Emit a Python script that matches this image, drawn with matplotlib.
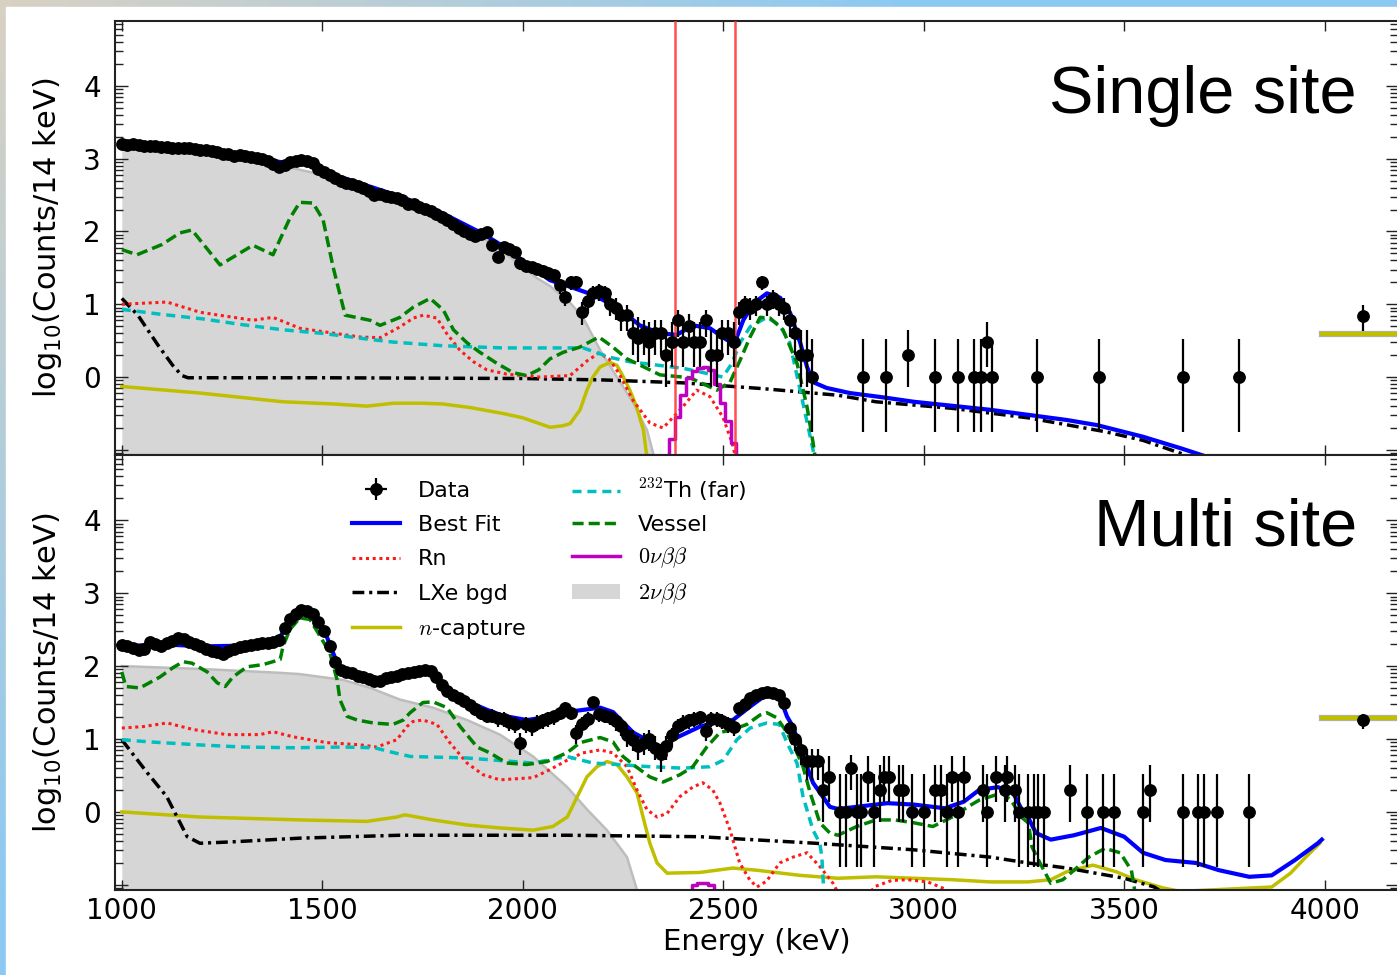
import numpy as np
import matplotlib
matplotlib.use("Agg")
import matplotlib.pyplot as plt
from matplotlib.patches import Rectangle

plt.rcParams['font.family'] = ['DejaVu Sans']
plt.rcParams['mathtext.fontset'] = 'cm'

# ------------------------------------------------------------------ data
bin_start = 1000.0
bin_width = 14.0

# ---- Single site (top panel), log10(counts / 14 keV)
ss_data_dense = [
    3.20, 3.19, 3.20, 3.19, 3.18, 3.18, 3.17, 3.16, 3.16, 3.15,
    3.15, 3.14, 3.15, 3.13, 3.12, 3.12, 3.10, 3.09, 3.07, 3.06,
    3.04, 3.05, 3.03, 3.02, 3.01,
    3.00, 2.97, 2.93, 2.89, 2.91, 2.95, 2.97, 2.98, 2.97, 2.94,
    2.86, 2.81, 2.77, 2.73, 2.69, 2.67, 2.65, 2.62, 2.60, 2.56,
    2.50, 2.52, 2.49, 2.47, 2.46, 2.43, 2.38, 2.38, 2.34, 2.31,
    2.28, 2.24, 2.20, 2.16, 2.10, 2.05, 2.00, 1.96, 1.94, 1.96,
    1.99, 1.82, 1.65, 1.79, 1.76, 1.72, 1.56, 1.53, 1.51, 1.49,
    1.46, 1.43, 1.40,
    1.26, 1.10, 1.30, 1.31, 0.90, 1.04, 1.15, 1.18, 1.15, 1.00,
    0.95, 0.85, 0.85, 0.60, 0.54, 0.60, 0.48, 0.60, 0.60, 0.30,
    0.48, 0.78, 0.48, 0.70, 0.48, 0.48, 0.78, 0.30, 0.30, 0.60,
    0.60, 0.48, 0.90, 1.00, 0.95, 1.00, 1.30, 1.00, 1.08, 1.00,
    0.95, 0.78, 0.60, 0.30, 0.30, 0.00]
ss_sparse_E = [2848, 2905, 2962, 3028, 3085, 3126, 3142, 3158, 3171, 3282,
               3437, 3646, 3786, 4095]
ss_sparse_y = [0.00, 0.00, 0.30, 0.00, 0.00, 0.00, 0.00, 0.48, 0.00, 0.00,
               0.00, 0.00, 0.00, 0.84]

ss_fit_E = [1000, 1100, 1200, 1300, 1400, 1450, 1500, 1600, 1700, 1800,
            1900, 1950, 2000, 2050, 2068, 2118, 2175, 2235, 2292, 2342,
            2384, 2425, 2467, 2509, 2534, 2550, 2575, 2609, 2642, 2667,
            2692, 2709, 2724, 2758, 2816, 2900, 2976, 3166, 3357, 3432,
            3547, 3642, 3720]
ss_fit_y = [3.18, 3.15, 3.10, 3.03, 2.95, 2.96, 2.83, 2.65, 2.47, 2.25,
            1.97, 1.80, 1.60, 1.40, 1.33, 1.24, 1.13, 0.96, 0.71, 0.60,
            0.58, 0.71, 0.67, 0.51, 0.55, 0.78, 1.01, 1.15, 1.09, 0.88,
            0.47, 0.14, -0.07, -0.15, -0.22, -0.28, -0.34, -0.45, -0.59, -0.66,
            -0.82, -0.98, -1.12]

ss_lxe_E = [1000, 1040, 1090, 1127, 1150, 1165, 1500, 2000, 2200, 2400,
            2600, 2786, 2881, 3071, 3260, 3452, 3547, 3642, 3670]
ss_lxe_y = [1.08, 0.85, 0.44, 0.16, 0.02, -0.01, -0.01, -0.02, -0.04, -0.08,
            -0.16, -0.25, -0.34, -0.43, -0.56, -0.75, -0.87, -1.05, -1.12]

ss_th_E = [1000, 1100, 1200, 1300, 1400, 1500, 1600, 1677, 1800, 1950,
           2068, 2151, 2218, 2267, 2400, 2459, 2499, 2522, 2542, 2567,
           2609, 2641, 2666, 2699, 2724, 2730]
ss_th_y = [0.93, 0.86, 0.80, 0.72, 0.65, 0.60, 0.53, 0.48, 0.43, 0.40,
           0.40, 0.40, 0.27, 0.21, 0.12, 0.05, 0.00, 0.19, 0.47, 0.69,
           0.82, 0.71, 0.47, -0.36, -1.00, -1.20]

ss_ves_E = [1000, 1038, 1100, 1145, 1175, 1245, 1327, 1377, 1419, 1444,
            1477, 1502, 1527, 1557, 1619, 1644, 1694, 1727, 1769, 1802,
            1827, 1861, 1893, 1935, 1976, 2010, 2040, 2068, 2101, 2142,
            2190, 2225, 2260, 2309, 2342, 2417, 2484, 2517, 2542, 2567,
            2592, 2617, 2649, 2684, 2709, 2724, 2732]
ss_ves_y = [1.75, 1.68, 1.82, 1.98, 2.02, 1.54, 1.81, 1.68, 2.18, 2.40,
            2.39, 2.16, 1.51, 0.85, 0.78, 0.71, 0.82, 0.96, 1.08, 0.92,
            0.65, 0.47, 0.34, 0.19, 0.06, 0.02, 0.10, 0.25, 0.34, 0.41,
            0.55, 0.41, 0.25, 0.12, 0.03, -0.01, -0.18, -0.07, 0.23, 0.55,
            0.82, 0.81, 0.65, 0.19, -0.41, -0.90, -1.20]

ss_rn_E = [1000, 1113, 1195, 1327, 1377, 1444, 1594, 1644, 1694, 1727,
           1752, 1786, 1810, 1843, 1877, 1910, 1960, 2043, 2118, 2160,
           2190, 2215, 2240, 2275, 2317, 2350, 2399, 2434, 2467, 2499,
           2522, 2535]
ss_rn_y = [1.00, 1.03, 0.89, 0.78, 0.82, 0.67, 0.55, 0.54, 0.69, 0.81,
           0.85, 0.81, 0.60, 0.37, 0.21, 0.10, 0.04, 0.00, 0.02, 0.22,
           0.33, 0.25, 0.05, -0.32, -0.63, -0.70, -0.41, -0.18, -0.27, -0.55,
           -0.90, -1.20]

ss_ncap_E = [1000, 1195, 1402, 1527, 1612, 1677, 1750, 1800, 1870, 1950,
             2000, 2068, 2100, 2118, 2143, 2160, 2175, 2193, 2218, 2235,
             2251, 2267, 2284, 2301, 2312]
ss_ncap_y = [-0.13, -0.22, -0.34, -0.37, -0.40, -0.36, -0.36, -0.37, -0.42, -0.50,
             -0.56, -0.69, -0.67, -0.64, -0.45, -0.18, 0.00, 0.14, 0.20, 0.16,
             0.00, -0.18, -0.41, -0.73, -1.20]

ss_0nu_E = [2358, 2372, 2386, 2400, 2414, 2428, 2442, 2456, 2470, 2484,
            2498, 2512, 2526, 2540]
ss_0nu_y = [-1.50, -0.85, -0.55, -0.25, -0.02, 0.08, 0.13, 0.14, 0.10, -0.10,
            -0.35, -0.60, -0.90, -1.50]

ss_2nu_E = [1000, 1100, 1200, 1300, 1400, 1500, 1600, 1700, 1800, 1900,
            1950, 2000, 2035, 2068, 2118, 2150, 2193, 2235, 2276, 2310,
            2325, 2335]
ss_2nu_y = [3.16, 3.12, 3.07, 3.00, 2.90, 2.78, 2.62, 2.44, 2.22, 1.92,
            1.72, 1.52, 1.36, 1.25, 1.02, 0.82, 0.37, 0.00, -0.36, -0.73,
            -1.04, -1.30]
ss_overflow_model = 0.59

# ---- Multi site (bottom panel)
ms_data_dense = [
    2.29, 2.27, 2.25, 2.22, 2.24, 2.33, 2.30, 2.27, 2.32, 2.35,
    2.39, 2.37, 2.33, 2.30, 2.27, 2.24, 2.21, 2.19, 2.16, 2.21,
    2.24, 2.26, 2.28, 2.29, 2.30, 2.31, 2.32, 2.33, 2.36, 2.52,
    2.64, 2.72, 2.77, 2.76, 2.71, 2.60, 2.48, 2.28, 2.05, 1.95,
    1.92, 1.90, 1.86, 1.85, 1.82, 1.79, 1.80, 1.83, 1.85, 1.87,
    1.89, 1.91, 1.92, 1.93, 1.94, 1.93, 1.85, 1.74, 1.66, 1.60,
    1.56, 1.52, 1.47, 1.41, 1.36, 1.32, 1.32, 1.29, 1.28, 1.23,
    1.20, 0.95, 1.20, 1.18, 1.22, 1.26, 1.29, 1.31, 1.36, 1.43,
    1.36, 1.08, 1.20, 1.28, 1.51, 1.34, 1.32, 1.30, 1.24, 1.18,
    1.05, 0.98, 0.90, 0.95, 1.00, 0.88, 0.80, 0.90, 1.05, 1.18,
    1.22, 1.26, 1.28, 1.30, 1.11, 1.28, 1.28, 1.25, 1.20, 1.17,
    1.42, 1.48, 1.56, 1.60, 1.63, 1.65, 1.63, 1.60, 1.49, 1.15,
    1.00, 0.85, 0.70, 0.70, 0.70, 0.30, 0.48]
ms_sparse_E = [2791, 2805, 2834, 2843, 2877, 2971, 3000, 3057, 3085, 3157,
               3238, 3261, 3275, 3285, 3299, 3408, 3446, 3474, 3546, 3646,
               3684, 3698, 3731, 3812,
               2892, 2938, 2948, 3028, 3043, 3147, 3204, 3228, 3366, 3565,
               2862, 2900, 2914, 3071, 3100, 3180, 3209,
               2819, 4095]
ms_sparse_y = [0.00] * 24 + [0.30] * 10 + [0.48] * 7 + [0.60, 1.26]

ms_fit_E = [1000, 1100, 1200, 1300, 1390, 1420, 1450, 1480, 1510, 1540,
            1560, 1640, 1700, 1760, 1800, 1860, 1911, 1950, 2010, 2060,
            2110, 2193, 2225, 2275, 2342, 2384, 2442, 2491, 2524, 2566,
            2608, 2641, 2659, 2674, 2699, 2724, 2766, 2786, 2833, 2910,
            2976, 3053, 3100, 3138, 3185, 3223, 3243, 3260, 3280, 3317,
            3375, 3442, 3500, 3547, 3603, 3679, 3737, 3812, 3868, 3926,
            3983, 3993]
ms_fit_y = [2.27, 2.30, 2.27, 2.28, 2.36, 2.62, 2.77, 2.70, 2.42, 2.00,
            1.92, 1.80, 1.88, 1.93, 1.75, 1.52, 1.40, 1.32, 1.26, 1.30,
            1.37, 1.43, 1.37, 1.09, 0.89, 1.02, 1.17, 1.24, 1.26, 1.44,
            1.61, 1.58, 1.31, 1.17, 0.76, 0.40, 0.07, 0.04, 0.07, 0.12,
            0.10, 0.05, 0.14, 0.30, 0.34, 0.26, 0.05, -0.07, -0.29, -0.38,
            -0.32, -0.22, -0.34, -0.56, -0.66, -0.70, -0.80, -0.89, -0.87, -0.66,
            -0.43, -0.38]

ms_lxe_E = [1000, 1063, 1112, 1138, 1163, 1195, 1277, 1444, 1694, 2111,
            2442, 2730, 2976, 3166, 3260, 3357, 3500, 3575, 3600]
ms_lxe_y = [0.99, 0.54, 0.21, -0.07, -0.34, -0.43, -0.41, -0.36, -0.32, -0.32,
            -0.34, -0.43, -0.52, -0.62, -0.70, -0.77, -0.91, -1.03, -1.12]

ms_th_E = [1000, 1070, 1190, 1300, 1430, 1550, 1630, 1680, 1720, 1860,
           2025, 2110, 2175, 2235, 2317, 2400, 2467, 2500, 2534, 2567,
           2609, 2640, 2659, 2684, 2699, 2724, 2741, 2746, 2752]
ms_th_y = [0.99, 0.96, 0.92, 0.89, 0.88, 0.89, 0.88, 0.81, 0.76, 0.74,
           0.67, 0.76, 0.67, 0.65, 0.62, 0.60, 0.62, 0.71, 0.99, 1.15,
           1.22, 1.20, 0.95, 0.67, 0.21, -0.25, -0.43, -0.62, -1.20]

ms_ves_E = [1000, 1010, 1045, 1095, 1128, 1153, 1175, 1213, 1238, 1258,
            1277, 1312, 1352, 1395, 1402, 1419, 1444, 1469, 1489, 1519,
            1537, 1544, 1562, 1587, 1627, 1676, 1702, 1719, 1751, 1776,
            1811, 1844, 1886, 1918, 1960, 2010, 2060, 2110, 2143, 2193,
            2225, 2250, 2275, 2317, 2350, 2392, 2424, 2459, 2492, 2524,
            2559, 2592, 2609, 2634, 2659, 2684, 2699, 2717, 2741, 2766,
            2786, 2833, 2881, 2928, 2976, 3023, 3071, 3110, 3138, 3195,
            3218, 3243, 3261, 3270, 3290, 3317, 3347, 3375, 3412, 3452,
            3490, 3518, 3530]
ms_ves_y = [1.92, 1.72, 1.70, 1.85, 1.98, 2.06, 2.04, 1.92, 1.77, 1.72,
            1.85, 1.99, 2.02, 2.09, 2.27, 2.50, 2.66, 2.64, 2.46, 2.18,
            1.81, 1.54, 1.31, 1.26, 1.22, 1.20, 1.26, 1.36, 1.50, 1.51,
            1.43, 1.17, 0.89, 0.81, 0.67, 0.65, 0.69, 0.81, 0.95, 1.02,
            0.96, 0.76, 0.65, 0.48, 0.41, 0.51, 0.62, 0.89, 1.09, 1.13,
            1.20, 1.33, 1.36, 1.29, 1.09, 0.81, 0.62, 0.26, -0.15, -0.29,
            -0.32, -0.20, -0.11, -0.11, -0.15, -0.20, -0.07, 0.07, 0.16, 0.26,
            0.16, -0.07, -0.15, -0.48, -0.70, -0.98, -0.93, -0.80, -0.62, -0.50,
            -0.56, -0.80, -1.20]

ms_rn_E = [1000, 1053, 1113, 1178, 1262, 1344, 1377, 1427, 1512, 1594,
           1636, 1686, 1711, 1726, 1751, 1786, 1818, 1861, 1901, 1943,
           2026, 2068, 2111, 2150, 2193, 2225, 2260, 2285, 2310, 2335,
           2360, 2392, 2424, 2449, 2474, 2492, 2517, 2541, 2566, 2584,
           2608, 2641, 2674, 2709, 2741, 2774, 2795, 2850, 2880, 2920,
           2960, 3010, 3050, 3075]
ms_rn_y = [1.15, 1.17, 1.22, 1.13, 1.06, 1.06, 1.10, 1.03, 0.95, 0.92,
           0.89, 0.99, 1.17, 1.24, 1.26, 1.20, 0.95, 0.67, 0.51, 0.44,
           0.47, 0.58, 0.71, 0.81, 0.85, 0.81, 0.62, 0.30, 0.03, -0.07,
           -0.02, 0.21, 0.34, 0.40, 0.30, 0.12, -0.25, -0.70, -0.93, -1.03,
           -0.95, -0.70, -0.62, -0.56, -0.75, -0.98, -1.20, -1.20, -1.02, -0.94,
           -0.93, -0.96, -1.05, -1.20]

ms_ncap_E = [1000, 1195, 1444, 1611, 1686, 1706, 1776, 1861, 1943, 2026,
             2075, 2111, 2136, 2160, 2185, 2210, 2235, 2260, 2285, 2300,
             2317, 2335, 2360, 2442, 2524, 2584, 2691, 2786, 2881, 2976,
             3071, 3166, 3260, 3317, 3357, 3422, 3480, 3528, 3595, 3640,
             3868, 3915, 3953, 3988]
ms_ncap_y = [0.00, -0.07, -0.11, -0.13, -0.07, -0.04, -0.11, -0.18, -0.22, -0.25,
             -0.20, -0.07, 0.21, 0.48, 0.62, 0.69, 0.65, 0.48, 0.26, -0.07,
             -0.43, -0.70, -0.84, -0.83, -0.77, -0.80, -0.87, -0.91, -0.89, -0.91,
             -0.93, -0.96, -0.96, -0.93, -0.82, -0.73, -0.82, -0.93, -1.04, -1.09,
             -1.03, -0.84, -0.62, -0.43]

ms_0nu_E = [2400, 2414, 2428, 2442, 2456, 2470, 2484, 2498]
ms_0nu_y = [-1.50, -1.15, -1.00, -0.97, -0.97, -1.00, -1.15, -1.50]

ms_2nu_E = [1000, 1200, 1387, 1444, 1552, 1620, 1694, 1776, 1861, 1943,
            2026, 2111, 2161, 2210, 2260, 2275, 2285, 2295]
ms_2nu_y = [2.00, 1.96, 1.91, 1.89, 1.81, 1.70, 1.54, 1.43, 1.26, 1.06,
            0.76, 0.34, 0.03, -0.25, -0.62, -0.89, -1.07, -1.30]
ms_overflow_model = 1.29

overflow_edges = [3993, 4190]
roi_edges = [2380, 2529]
x_ticks = [1000, 1500, 2000, 2500, 3000, 3500, 4000]
y_ticks = [-1, 0, 1, 2, 3, 4]
y_ticklabels = ['', '0', '1', '2', '3', '4']
y_range = (-1.071, 4.895)
x_range = (983, 4183)

# small-count error bars (in log10): count -> (lower, upper)
small_count_err = {1: (0.76, 0.52), 2: (0.44, 0.35), 3: (0.34, 0.28)}

# ------------------------------------------------------------------ styles
C_FIT = '#0000ff'
C_RN = '#ff1a1a'
C_LXE = 'black'
C_NCAP = '#bfbf00'
C_TH = '#00bfbf'
C_VES = '#008000'
C_0NU = '#bf00bf'
C_2NU = '#d6d6d6'


def log_errors(vals):
    vals = np.asarray(vals, dtype=float)
    lo = np.zeros_like(vals)
    hi = np.zeros_like(vals)
    for i, v in enumerate(vals):
        n = int(round(10 ** v))
        if n in small_count_err:
            lo[i], hi[i] = small_count_err[n]
        else:
            s = np.sqrt(n)
            lo[i] = v - np.log10(n - s)
            hi[i] = np.log10(n + s) - v
    return lo, hi


W, H = 1397, 975
fig = plt.figure(figsize=(W / 100, H / 100), dpi=100)

# slide background (gradient border)
bg = fig.add_axes([0, 0, 1, 1], zorder=-10)
yy, xx = np.mgrid[0:H:5, 0:W:5]
t = np.clip((xx + yy) / 900.0, 0, 1)
c0 = np.array([0.85, 0.82, 0.76])
c1 = np.array([0.55, 0.79, 0.95])
img = c0[None, None, :] * (1 - t[..., None]) + c1[None, None, :] * t[..., None]
bg.imshow(img, extent=[0, W, H, 0], aspect='auto', interpolation='bilinear')
bg.add_patch(Rectangle((6, 7), W, H, color='white'))
bg.set_xlim(0, W)
bg.set_ylim(H, 0)
bg.axis('off')


def frac(x0, y0, x1, y1):
    return [x0 / W, 1 - y1 / H, (x1 - x0) / W, (y1 - y0) / H]


ax1 = fig.add_axes(frac(115, 20.7, 1398, 455))
ax2 = fig.add_axes(frac(115, 455, 1398, 890), sharex=ax1)

LW = 2.5
ls_ves = (0, (3.2, 1.45))
ls_th = (0, (2.6, 1.7))
ls_lxe = (0, (3.4, 1.4, 0.9, 1.4))
ls_rn = (0, (1.0, 1.2))


def draw_panel(ax, dense, sp_E, sp_y, fitE, fitY, lxeE, lxeY, thE, thY,
               vesE, vesY, rnE, rnY, ncE, ncY, e0E, e0Y, e2E, e2Y, ovf):
    e2E = np.asarray(e2E)
    e2Y = np.asarray(e2Y)
    h = {}
    h['2nu'] = ax.fill_between(e2E, e2Y, -5, color=C_2NU, lw=0, zorder=1,
                               label=r'$2\nu\beta\beta$')
    ax.plot(e2E, e2Y, color='#bdbdbd', lw=1.8, zorder=1.2)
    h['ncap'], = ax.plot(ncE, ncY, color=C_NCAP, lw=LW, zorder=2,
                         label=r'$n$-capture')
    ax.plot(overflow_edges, [ovf, ovf], color='#b0b0b0', lw=4.5, zorder=2)
    ax.plot(overflow_edges, [ovf, ovf], color=C_NCAP, lw=3, zorder=2.1)
    h['lxe'], = ax.plot(lxeE, lxeY, color=C_LXE, lw=LW, ls=ls_lxe, zorder=2,
                        label='LXe bgd')
    h['rn'], = ax.plot(rnE, rnY, color=C_RN, lw=2.2, ls=ls_rn, zorder=2,
                       label='Rn')
    h['th'], = ax.plot(thE, thY, color=C_TH, lw=LW, ls=ls_th, zorder=2.2,
                       label=r'$^{232}$Th (far)')
    h['ves'], = ax.plot(vesE, vesY, color=C_VES, lw=LW, ls=ls_ves, zorder=2.3,
                        label='Vessel')
    h['0nu'], = ax.plot(e0E, e0Y, color=C_0NU, lw=LW, drawstyle='steps-mid',
                        zorder=2.4, label=r'$0\nu\beta\beta$')
    h['fit'], = ax.plot(fitE, fitY, color=C_FIT, lw=LW + 0.5, zorder=3,
                        label='Best Fit')
    dE = bin_start + bin_width * np.arange(len(dense))
    allE = np.concatenate([dE, np.asarray(sp_E, float)])
    allY = np.concatenate([np.asarray(dense, float), np.asarray(sp_y, float)])
    lo, hi = log_errors(allY)
    h['data'] = ax.errorbar(allE, allY, xerr=bin_width / 2, yerr=[lo, hi],
                            fmt='o', color='k', ms=8.2, elinewidth=1.6,
                            capsize=0, zorder=10, label='Data')
    return h


draw_panel(ax1, ss_data_dense, ss_sparse_E, ss_sparse_y, ss_fit_E, ss_fit_y,
           ss_lxe_E, ss_lxe_y, ss_th_E, ss_th_y, ss_ves_E, ss_ves_y,
           ss_rn_E, ss_rn_y, ss_ncap_E, ss_ncap_y, ss_0nu_E, ss_0nu_y,
           ss_2nu_E, ss_2nu_y, ss_overflow_model)
for e in roi_edges:
    ax1.axvline(e, color='#ff3030', lw=1.8, alpha=0.85, zorder=4)

hb = draw_panel(ax2, ms_data_dense, ms_sparse_E, ms_sparse_y, ms_fit_E, ms_fit_y,
                ms_lxe_E, ms_lxe_y, ms_th_E, ms_th_y, ms_ves_E, ms_ves_y,
                ms_rn_E, ms_rn_y, ms_ncap_E, ms_ncap_y, ms_0nu_E, ms_0nu_y,
                ms_2nu_E, ms_2nu_y, ms_overflow_model)

minor_y = [d + np.log10(k) for d in range(-2, 5) for k in range(2, 10)]
minor_y = [m for m in minor_y if y_range[0] <= m <= y_range[1]]
for ax in (ax1, ax2):
    ax.set_xticks(x_ticks)
    ax.set_yticks(y_ticks)
    ax.set_yticklabels(y_ticklabels)
    ax.set_yticks(minor_y, minor=True)
    ax.set_xlim(*x_range)
    ax.set_ylim(*y_range)
    ax.tick_params(axis='both', which='both', direction='in', top=True,
                   right=True, width=1.0, colors='#222222', labelcolor='black')
    ax.tick_params(axis='y', which='major', length=9, pad=10, labelsize=20)
    ax.tick_params(axis='y', which='minor', length=6)
    ax.tick_params(axis='x', which='major', length=7, pad=5, labelsize=20)
    for sp in ax.spines.values():
        sp.set_linewidth(1.5)
        sp.set_color('#222222')
    ax.set_ylabel(r'log$\mathregular{_{10}}$(Counts/14 keV)', fontsize=22)
    ax.yaxis.set_label_coords(-0.040, 0.5)
    ax.set_facecolor('white')

ax1.tick_params(axis='x', labelbottom=False)
ax2.set_xlabel('Energy (keV)', fontsize=21, labelpad=2)

leg_kw = dict(fontsize=16, frameon=False, handlelength=2.16,
              handletextpad=0.8, borderpad=0,
              borderaxespad=0, loc='upper left',
              bbox_transform=fig.transFigure)
leg1 = ax2.legend([hb['data'], hb['fit'], hb['rn'], hb['lxe'], hb['ncap']],
                  ['Data', 'Best Fit', 'Rn', 'LXe bgd', r'$n$-capture'],
                  bbox_to_anchor=(352 / W, 1 - 481 / H), labelspacing=0.64,
                  **leg_kw)
ax2.add_artist(leg1)
leg2 = ax2.legend([hb['th'], hb['ves'], hb['0nu'], hb['2nu']],
                  [r'$^{232}$Th (far)', 'Vessel', r'$0\nu\beta\beta$',
                   r'$2\nu\beta\beta$'],
                  bbox_to_anchor=(572 / W, 1 - 477 / H), labelspacing=0.49,
                  **leg_kw)

fig.text(1357 / W, 1 - 113 / H, 'Single site', ha='right', va='baseline',
         fontsize=48, family=['Liberation Sans', 'DejaVu Sans'])
fig.text(1357 / W, 1 - 545 / H, 'Multi site', ha='right', va='baseline',
         fontsize=48, family=['Liberation Sans', 'DejaVu Sans'])

fig.savefig('out.png', dpi=100)
